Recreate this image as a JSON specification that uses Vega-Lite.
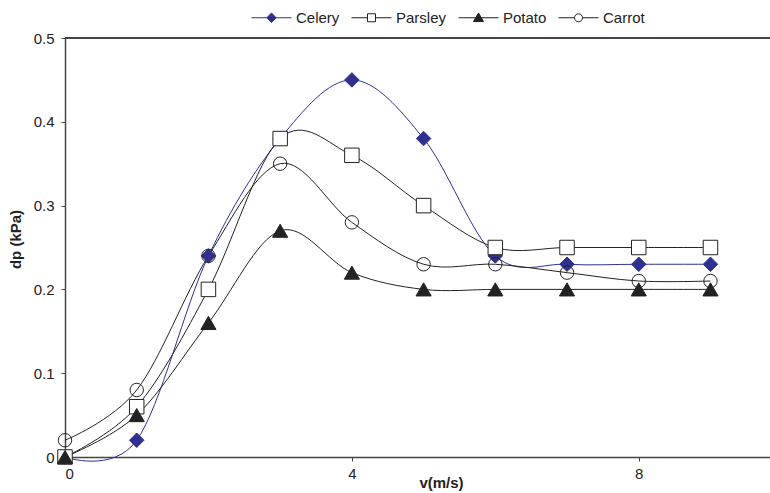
{
  "$schema": "https://vega.github.io/schema/vega-lite/v6.json",
  "width": 705,
  "height": 419,
  "autosize": "none",
  "padding": {"left": 65, "top": 38, "right": 0, "bottom": 36},
  "background": "white",
  "config": {
    "view": {"stroke": null},
    "font": "Liberation Sans",
    "axis": {
      "grid": false,
      "domainColor": "#444",
      "domainWidth": 1.5,
      "tickColor": "#444",
      "tickSize": 4,
      "labelFont": "Liberation Sans",
      "labelFontSize": 15,
      "labelColor": "#222",
      "titleFont": "Liberation Sans",
      "titleFontSize": 15,
      "titleFontWeight": "bold",
      "titleColor": "#222"
    }
  },
  "data": {
    "values": [
      {"crop": "Celery", "v": 0, "dp": 0},
      {"crop": "Celery", "v": 1, "dp": 0.02},
      {"crop": "Celery", "v": 2, "dp": 0.24},
      {"crop": "Celery", "v": 3, "dp": 0.38},
      {"crop": "Celery", "v": 4, "dp": 0.45},
      {"crop": "Celery", "v": 5, "dp": 0.38},
      {"crop": "Celery", "v": 6, "dp": 0.24},
      {"crop": "Celery", "v": 7, "dp": 0.23},
      {"crop": "Celery", "v": 8, "dp": 0.23},
      {"crop": "Celery", "v": 9, "dp": 0.23},
      {"crop": "Parsley", "v": 0, "dp": 0},
      {"crop": "Parsley", "v": 1, "dp": 0.06},
      {"crop": "Parsley", "v": 2, "dp": 0.2},
      {"crop": "Parsley", "v": 3, "dp": 0.38},
      {"crop": "Parsley", "v": 4, "dp": 0.36},
      {"crop": "Parsley", "v": 5, "dp": 0.3},
      {"crop": "Parsley", "v": 6, "dp": 0.25},
      {"crop": "Parsley", "v": 7, "dp": 0.25},
      {"crop": "Parsley", "v": 8, "dp": 0.25},
      {"crop": "Parsley", "v": 9, "dp": 0.25},
      {"crop": "Potato", "v": 0, "dp": 0},
      {"crop": "Potato", "v": 1, "dp": 0.05},
      {"crop": "Potato", "v": 2, "dp": 0.16},
      {"crop": "Potato", "v": 3, "dp": 0.27},
      {"crop": "Potato", "v": 4, "dp": 0.22},
      {"crop": "Potato", "v": 5, "dp": 0.2},
      {"crop": "Potato", "v": 6, "dp": 0.2},
      {"crop": "Potato", "v": 7, "dp": 0.2},
      {"crop": "Potato", "v": 8, "dp": 0.2},
      {"crop": "Potato", "v": 9, "dp": 0.2},
      {"crop": "Carrot", "v": 0, "dp": 0.02},
      {"crop": "Carrot", "v": 1, "dp": 0.08},
      {"crop": "Carrot", "v": 2, "dp": 0.24},
      {"crop": "Carrot", "v": 3, "dp": 0.35},
      {"crop": "Carrot", "v": 4, "dp": 0.28},
      {"crop": "Carrot", "v": 5, "dp": 0.23},
      {"crop": "Carrot", "v": 6, "dp": 0.23},
      {"crop": "Carrot", "v": 7, "dp": 0.22},
      {"crop": "Carrot", "v": 8, "dp": 0.21},
      {"crop": "Carrot", "v": 9, "dp": 0.21}
    ]
  },
  "encoding": {
    "x": {
      "field": "v", "type": "quantitative",
      "scale": {"domain": [0, 9.83], "nice": false, "zero": false},
      "axis": {
        "title": "v(m/s)", "values": [0, 4, 8], "labelPadding": 5,
        "titleX": 376, "titleY": 25, "titleAlign": "center", "titleBaseline": "middle", "titleAnchor": null
      }
    },
    "y": {
      "field": "dp", "type": "quantitative",
      "scale": {"domain": [0, 0.5], "nice": false},
      "axis": {
        "title": "dp (kPa)", "values": [0, 0.1, 0.2, 0.3, 0.4, 0.5], "format": ".1~f", "labelPadding": 7,
        "titleX": -50, "titleY": 201, "titleAngle": -90, "titleAlign": "center", "titleBaseline": "middle", "titleAnchor": null
      }
    }
  },
  "layer": [
    {
      "mark": {"type": "rule", "stroke": "#444", "strokeWidth": 1.5},
      "encoding": {"x": null, "y": {"datum": 0.5}}
    },
    {
      "mark": {"type": "line", "interpolate": "cardinal", "strokeWidth": 1},
      "encoding": {
        "detail": {"field": "crop"},
        "stroke": {
          "field": "crop", "type": "nominal",
          "scale": {"domain": ["Celery", "Parsley", "Potato", "Carrot"], "range": ["#2E3192", "#222222", "#222222", "#222222"]}
        }
      }
    },
    {
      "transform": [{"filter": {"field": "crop", "equal": "Celery"}}],
      "mark": {"type": "point", "shape": "diamond", "size": 210, "filled": true, "fill": "#2E3192", "stroke": "#2E3192", "strokeWidth": 1, "opacity": 1}
    },
    {
      "transform": [{"filter": {"field": "crop", "equal": "Parsley"}}],
      "mark": {"type": "point", "shape": "square", "size": 210, "filled": true, "fill": "#ffffff", "stroke": "#222222", "strokeWidth": 1, "opacity": 1}
    },
    {
      "transform": [{"filter": {"field": "crop", "equal": "Potato"}}],
      "mark": {"type": "point", "shape": "triangle-up", "size": 230, "filled": true, "fill": "#222222", "stroke": "#222222", "strokeWidth": 1, "opacity": 1}
    },
    {
      "transform": [{"filter": {"field": "crop", "equal": "Carrot"}}],
      "mark": {"type": "point", "shape": "circle", "size": 180, "filled": false, "stroke": "#222222", "strokeWidth": 1, "opacity": 1}
    },
    {
      "transform": [{"filter": {"field": "v", "lt": -1}}],
      "mark": {"type": "point", "filled": true, "opacity": 1},
      "encoding": {
        "stroke": {"field": "crop", "type": "nominal"},
        "fill": {
          "field": "crop", "type": "nominal",
          "scale": {"domain": ["Celery", "Parsley", "Potato", "Carrot"], "range": ["#2E3192", "#ffffff", "#222222", "#ffffff"]}
        },
        "shape": {
          "field": "crop", "type": "nominal",
          "scale": {
            "domain": ["Celery", "Parsley", "Potato", "Carrot"],
            "range": [
              "M-1,0H1M0,-0.24L0.23,0L0,0.24L-0.23,0Z",
              "M-1,0H-0.2M0.2,0H1M-0.2,-0.2H0.2V0.2H-0.2Z",
              "M-1,0H1M0,-0.24L0.25,0.19H-0.25Z",
              "M-1,0H-0.2M0.2,0H1M0.2,0A0.2,0.2,0,1,1,-0.2,0A0.2,0.2,0,1,1,0.2,0Z"
            ]
          },
          "legend": {
            "title": null,
            "orient": "none",
            "direction": "horizontal",
            "legendX": 186,
            "legendY": -41,
            "symbolSize": 1600,
            "symbolStrokeWidth": 1,
            "symbolOpacity": 1,
            "labelFont": "Liberation Sans",
            "labelFontSize": 15,
            "labelColor": "#222",
            "labelOffset": 4,
            "columnPadding": 9
          }
        }
      }
    }
  ]
}
